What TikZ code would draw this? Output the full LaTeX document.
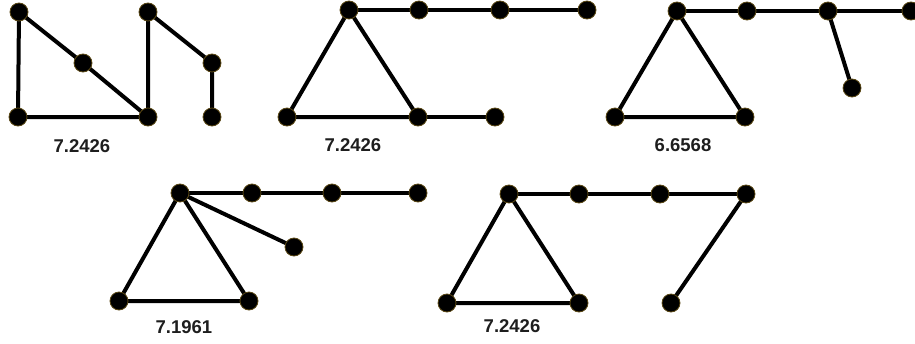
\documentclass[tikz,border=0pt]{standalone}
\usepackage{fontspec}
\setmainfont{Liberation Sans}
\definecolor{rim}{RGB}{90,72,20}
\definecolor{txt}{RGB}{30,30,30}
\pgfdeclarelayer{edges}
\pgfsetlayers{edges,main}
\begin{document}
\begin{tikzpicture}[x=1pt,y=-1pt,
  vtx/.style={circle,fill=black,draw=rim,line width=0.8pt,minimum size=18pt,inner sep=0pt},
  edge/.style={line width=4pt,black},
  lbl/.style={font=\fontsize{18.5}{20}\selectfont\bfseries,text=txt,inner sep=0pt}]
\useasboundingbox (0,0) rectangle (915,343);
% Graph 1
\node[vtx] (a1) at (19,12) {};
\node[vtx] (b1) at (18,117) {};
\node[vtx] (c1) at (83,63) {};
\node[vtx] (d1) at (148,117) {};
\node[vtx] (e1) at (148,12) {};
\node[vtx] (f1) at (212,63) {};
\node[vtx] (g1) at (212,117) {};
\node[lbl] (l1) at (82,146) {7.2426};
% Graph 2
\node[vtx] (a2) at (349,10) {};
\node[vtx] (b2) at (287,117) {};
\node[vtx] (c2) at (418,117) {};
\node[vtx] (d2) at (495,117) {};
\node[vtx] (t2a) at (419,10) {};
\node[vtx] (t2b) at (500,10) {};
\node[vtx] (t2c) at (587,10) {};
\node[lbl] (l2) at (353,145) {7.2426};
% Graph 3
\node[vtx] (a3) at (677,11) {};
\node[vtx] (b3) at (615,117) {};
\node[vtx] (c3) at (745,117) {};
\node[vtx] (t3a) at (747,11) {};
\node[vtx] (t3b) at (828,11) {};
\node[vtx] (t3c) at (911,11) {};
\node[vtx] (p3) at (852,88) {};
\node[lbl] (l3) at (683,145) {6.6568};
% Graph 4
\node[vtx] (a4) at (180,193) {};
\node[vtx] (b4) at (119,301) {};
\node[vtx] (c4) at (249,301) {};
\node[vtx] (t4a) at (252,193) {};
\node[vtx] (t4b) at (332,193) {};
\node[vtx] (t4c) at (418,193) {};
\node[vtx] (p4) at (294,247) {};
\node[lbl] (l4) at (184,327) {7.1961};
% Graph 5
\node[vtx] (a5) at (509,194) {};
\node[vtx] (b5) at (447,303) {};
\node[vtx] (c5) at (579,303) {};
\node[vtx] (t5a) at (579,194) {};
\node[vtx] (t5b) at (660,194) {};
\node[vtx] (t5c) at (746,194) {};
\node[vtx] (p5) at (671,303) {};
\node[lbl] (l5) at (512,326) {7.2426};
\begin{pgfonlayer}{edges}
% Graph 1
\draw[edge] (a1.center) -- (b1.center) -- (d1.center) -- (c1.center) -- (a1.center);
\draw[edge] (d1.center) -- (e1.center) -- (f1.center) -- (g1.center);
% Graph 2
\draw[edge] (a2.center) -- (b2.center) -- (c2.center) -- (a2.center);
\draw[edge] (c2.center) -- (d2.center);
\draw[edge] (a2.center) -- (t2a.center) -- (t2b.center) -- (t2c.center);
% Graph 3
\draw[edge] (a3.center) -- (b3.center) -- (c3.center) -- (a3.center);
\draw[edge] (a3.center) -- (t3a.center) -- (t3b.center) -- (t3c.center);
\draw[edge] (t3b.center) -- (p3.center);
% Graph 4
\draw[edge] (a4.center) -- (b4.center) -- (c4.center) -- (a4.center);
\draw[edge] (a4.center) -- (t4a.center) -- (t4b.center) -- (t4c.center);
\draw[edge] (a4.center) -- (p4.center);
% Graph 5
\draw[edge] (a5.center) -- (b5.center) -- (c5.center) -- (a5.center);
\draw[edge] (a5.center) -- (t5a.center) -- (t5b.center) -- (t5c.center);
\draw[edge] (t5c.center) -- (p5.center);
\end{pgfonlayer}
\end{tikzpicture}
\end{document}
